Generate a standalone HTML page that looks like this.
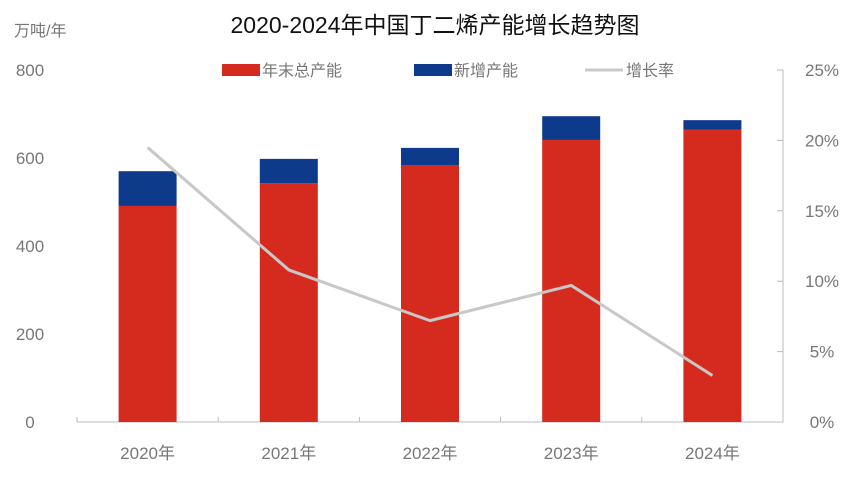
<!DOCTYPE html>
<html><head><meta charset="utf-8"><style>
body{margin:0;background:#fff;}
svg text{font-family:"Liberation Sans","Noto Sans CJK SC",sans-serif;}
</style></head><body>
<svg id="c" width="866" height="481">
<text x="435" y="33" text-anchor="middle" font-size="23" fill="#111">2020-2024年中国丁二烯产能增长趋势图</text>
<text x="14" y="36" font-size="16" fill="#777">万吨/年</text>
<g>
<rect x="222" y="64" width="38" height="12" fill="#d52b1e"/>
<text x="262" y="76" font-size="16" fill="#777">年末总产能</text>
<rect x="414" y="64" width="38" height="12" fill="#0e3a8c"/>
<text x="454" y="76" font-size="16" fill="#777">新增产能</text>
<line x1="585" y1="70" x2="623" y2="70" stroke="#c8c8c8" stroke-width="3"/>
<text x="626" y="76" font-size="16" fill="#777">增长率</text>
</g>
<g id="plot"></g>
</svg>
<script>
const categories=["2020年","2021年","2022年","2023年","2024年"];
const totalCap=[491,543,584,641,664];
const newCap=[79,55,39,54,22];
const growth=[19.5,10.8,7.2,9.7,3.3];
const leftTicks=[0,200,400,600,800];
const rightTicks=[0,5,10,15,20,25];
const NS="http://www.w3.org/2000/svg";
const g=document.getElementById('plot');
const x0=77,x1=783,yB=422,yT=70;
const bw=(x1-x0)/categories.length;
const yL=v=>yB-(v/800)*(yB-yT);
const yR=v=>yB-(v/25)*(yB-yT);
const xC=i=>x0+bw*(i+0.5);
function mk(t,a){const e=document.createElementNS(NS,t);for(const k in a)e.setAttribute(k,a[k]);g.appendChild(e);return e;}
let e=mk('line',{x1:x0,y1:yB,x2:x1,y2:yB,stroke:'#bbb','stroke-width':1});


e=mk('line',{x1:x1,y1:yT,x2:x1,y2:yB,stroke:'#bbb','stroke-width':1});


for(let i=0;i<=categories.length;i++){
 e=mk('line',{x1:x0+bw*i,y1:yB,x2:x0+bw*i,y2:yB-5,stroke:'#bbb'});
 
 
}
leftTicks.forEach(v=>{
 e=mk('text',{x:30,y:yL(v)+6,'text-anchor':'middle','font-size':17,fill:'#777'});
 e.textContent=v;
 
 
});
rightTicks.forEach(v=>{
 e=mk('line',{x1:x1-6,y1:yR(v),x2:x1,y2:yR(v),stroke:'#bbb'});
 
 
 e=mk('text',{x:822,y:yR(v)+6,'text-anchor':'middle','font-size':17,fill:'#777'});
 e.textContent=v+'%';
 
 
});
categories.forEach((c,i)=>{
 const w=58,x=xC(i)-w/2;
 e=mk('rect',{x:x,y:yL(totalCap[i]),width:w,height:yB-yL(totalCap[i]),fill:'#d52b1e'});
 
 
 e=mk('rect',{x:x,y:yL(totalCap[i]+newCap[i]),width:w,height:yL(totalCap[i])-yL(totalCap[i]+newCap[i]),fill:'#0e3a8c'});
 
 
 e=mk('text',{x:xC(i),y:459,'text-anchor':'middle','font-size':17,fill:'#777'});
 e.textContent=c;
 
 
});
e=mk('polyline',{points:growth.map((v,i)=>xC(i)+','+yR(v)).join(' '),fill:'none',stroke:'#c8c8c8','stroke-width':3,'stroke-linejoin':'round'});


</script>
</body></html>
